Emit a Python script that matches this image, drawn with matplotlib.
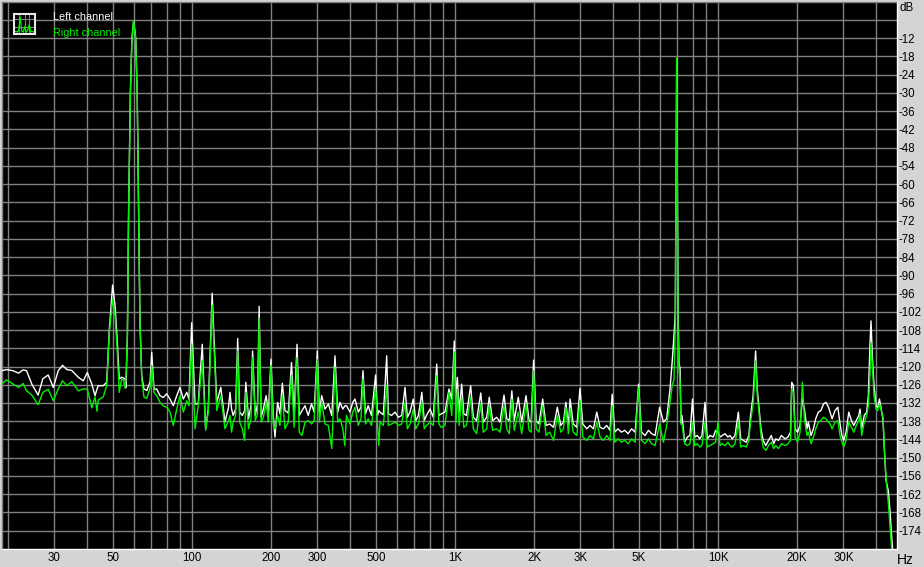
import matplotlib
matplotlib.use("Agg")
import matplotlib.pyplot as plt
from matplotlib.ticker import NullFormatter

# -------------------------------
# DATOS
# -------------------------------
freq_hz = [
    18.9, 19.7, 20.9, 21.9, 22.8, 23.5, 24.6, 26.0, 27.1, 28.4,
    29.7, 31.0, 32.2, 33.4, 34.9, 37.0, 38.6, 40.0, 41.6, 42.8,
    43.5, 44.0, 46.0, 47.4, 48.5, 49.9, 51.0, 52.0, 52.9, 54.0,
    54.8, 55.7, 56.1, 56.8, 57.4, 58.3, 59.1, 60.0, 61.1, 61.9,
    62.7, 63.4, 64.4, 65.7, 67.3, 69.3, 70.3, 71.7, 73.4, 75.6,
    77.8, 80.1, 82.5, 84.9, 87.5, 90.0, 92.7, 95.5, 97.4, 99.7,
    102.7, 105.6, 109.4, 112.7, 115.3, 119.3, 124.2, 128.7, 133.5, 137.7,
    139.5, 141.4, 143.4, 146.5, 149.2, 151.8, 155.4, 158.5, 160.2, 164.0,
    167.6, 170.0, 174.0, 177.5, 180.0, 183.2, 186.8, 191.3, 195.2, 199.7,
    203.7, 206.8, 211.6, 216.0, 220.5, 225.7, 232.3, 239.0, 244.5, 250.8,
    255.8, 262.0, 269.0, 276.7, 284.7, 291.3, 299.6, 305.0, 311.3, 320.4,
    330.0, 340.0, 349.7, 358.3, 365.3, 374.5, 381.0, 386.8, 398.8, 408.6,
    416.6, 428.9, 439.0, 446.9, 456.5, 467.5, 481.5, 499.0, 507.6, 513.0,
    518.6, 534.0, 550.0, 558.0, 574.0, 591.5, 609.0, 627.0, 645.6, 659.0,
    674.5, 694.0, 709.0, 726.0, 748.0, 764.0, 779.0, 803.6, 827.0, 852.0,
    868, 886, 916, 949, 972, 994, 1010, 1021, 1037, 1060,
    1080, 1105, 1147, 1174, 1208, 1253, 1281, 1320, 1350, 1390,
    1440, 1483, 1536, 1573, 1609, 1645, 1680, 1740, 1793, 1862,
    1913, 1948, 1990, 2035, 2085, 2155, 2220, 2290, 2370, 2450,
    2525, 2585, 2640, 2700, 2740, 2815, 2905, 2987, 3060, 3170,
    3261, 3360, 3460, 3560, 3665, 3775, 3885, 3960, 4050, 4165,
    4290, 4420, 4550, 4695, 4840, 4990, 5120, 5280, 5440, 5595,
    5765, 6000, 6200, 6380, 6570, 6700, 6800, 6880, 6966, 7050,
    7110, 7170, 7240, 7295, 7470, 7645, 7825, 8000, 8160, 8350,
    8525, 8690, 8925, 9100, 9324, 9600, 9790, 10000, 10177, 10380,
    10632, 10900, 11108, 11320, 11605, 11950, 12200, 12460, 12800, 13100,
    13300, 13600, 13900, 14100, 14300, 14570, 14850, 15200, 15560, 15950,
    16290, 16580, 16980, 17420, 17983, 18450, 18870, 19070, 19350, 19630,
    20070, 20505, 20940, 21300, 21800, 22050, 22580, 23060, 23520, 24080,
    24620, 25190, 25750, 26320, 26670, 27150, 27860, 28550, 29110, 29580,
    30050, 30690, 31420, 32160, 32820, 33550, 34310, 34670, 35180, 35980,
    36760, 37300, 37850, 38180, 38620, 39200, 39890, 40520, 41110, 41750,
    42400, 42950, 43550, 44430, 45080, 45750, 46150, 46600,
]

left_db = [
    -121.4, -121.0, -121.4, -122.2, -121.1, -121.4, -125.8, -129.4, -124.0, -122.8,
    -126.9, -121.4, -119.6, -121.0, -121.3, -123.6, -124.7, -122.0, -125.8, -129.6,
    -127.5, -126.3, -126.3, -125.2, -107.8, -93.2, -100.0, -112.0, -124.1, -123.5,
    -123.8, -124.1, -126.9, -110.0, -70.0, -30.0, -12.0, -6.3, -12.0, -30.0,
    -70.0, -105.0, -123.3, -127.4, -127.9, -125.0, -115.4, -127.5, -127.4, -129.6,
    -130.2, -129.0, -130.7, -132.9, -129.6, -126.9, -130.7, -128.5, -130.7, -105.6,
    -132.3, -132.3, -112.7, -140.5, -134.0, -95.9, -131.8, -126.9, -138.3, -133.4,
    -128.5, -134.0, -136.1, -134.0, -110.8, -135.0, -136.1, -134.5, -125.2, -137.2,
    -132.9, -114.9, -136.1, -132.3, -100.2, -136.7, -134.0, -129.6, -135.0, -117.6,
    -136.1, -143.2, -131.8, -135.6, -125.5, -134.5, -135.3, -118.7, -136.1, -112.7,
    -136.1, -134.5, -132.9, -136.1, -132.3, -135.0, -114.9, -135.0, -129.6, -134.0,
    -132.3, -136.1, -116.5, -135.0, -131.8, -134.0, -133.0, -132.9, -135.0, -131.8,
    -130.7, -135.0, -133.4, -121.4, -135.6, -132.9, -136.1, -122.8, -136.1, -134.5,
    -135.0, -135.9, -116.5, -135.6, -136.1, -135.0, -136.7, -136.1, -126.9, -136.7,
    -135.0, -130.7, -137.8, -136.1, -128.5, -137.8, -136.1, -134.0, -136.7, -119.2,
    -136.1, -135.6, -135.0, -127.4, -130.7, -111.6, -131.8, -123.6, -135.0, -125.8,
    -135.6, -136.1, -126.3, -136.7, -137.8, -128.7, -138.3, -136.7, -130.1, -137.8,
    -136.7, -138.3, -129.4, -137.2, -137.8, -128.0, -137.8, -130.1, -138.3, -129.6,
    -137.8, -138.3, -117.9, -137.8, -138.9, -130.7, -139.4, -138.9, -140.0, -133.4,
    -139.4, -138.3, -131.8, -139.4, -130.7, -138.9, -140.0, -127.2, -138.9, -140.5,
    -139.4, -140.5, -135.0, -140.0, -140.5, -139.4, -141.0, -129.1, -141.6, -140.5,
    -141.6, -141.0, -142.1, -140.5, -141.6, -125.8, -141.6, -142.7, -141.0, -142.1,
    -142.7, -133.4, -138.3, -137.2, -127.4, -118.1, -110.0, -102.4, -18.6, -101.5,
    -118.9, -120.5, -138.6, -136.1, -144.9, -143.2, -142.7, -130.7, -143.2, -142.7,
    -143.8, -142.7, -131.8, -143.8, -142.7, -143.2, -141.0, -141.6, -143.2, -142.7,
    -142.1, -143.2, -142.7, -143.8, -142.7, -135.0, -143.8, -144.3, -144.9, -142.7,
    -136.1, -129.6, -114.9, -127.4, -132.9, -140.5, -144.3, -146.0, -144.3, -142.7,
    -145.4, -143.8, -144.3, -142.7, -143.8, -143.2, -141.6, -125.2, -126.3, -140.5,
    -141.6, -139.4, -130.7, -134.0, -140.5, -138.3, -142.7, -140.5, -137.2, -135.0,
    -134.5, -132.3, -131.8, -133.4, -135.0, -137.2, -134.5, -133.4, -138.9, -142.7,
    -144.3, -141.6, -135.0, -137.8, -139.4, -137.8, -136.1, -134.0, -140.5, -136.1,
    -135.0, -129.6, -112.2, -105.0, -116.5, -126.3, -132.9, -133.4, -130.7, -134.0,
    -137.6, -148.0, -157.5, -161.0, -167.5, -176.0, -180.4, -186.0,
]

right_db = [
    -125.8, -124.4, -125.8, -126.9, -125.6, -128.0, -129.4, -132.6, -128.5, -127.5,
    -131.3, -127.4, -124.7, -126.3, -125.0, -128.0, -127.4, -127.4, -133.6, -130.0,
    -134.7, -131.0, -130.0, -126.3, -108.9, -97.9, -103.4, -115.4, -128.5, -124.1,
    -124.4, -127.3, -123.6, -110.0, -70.0, -31.0, -12.5, -6.2, -12.5, -31.0,
    -70.0, -105.0, -124.0, -130.1, -130.5, -127.0, -119.6, -128.5, -129.6, -131.8,
    -133.0, -133.4, -135.0, -139.4, -134.0, -129.6, -135.0, -131.3, -132.9, -112.7,
    -140.5, -133.0, -118.1, -141.0, -135.0, -99.8, -134.5, -129.6, -140.5, -137.8,
    -136.1, -141.6, -138.3, -136.1, -114.9, -138.3, -140.5, -144.3, -128.5, -140.5,
    -137.2, -117.1, -137.8, -135.6, -104.0, -138.3, -136.7, -131.8, -138.3, -119.6,
    -138.9, -140.5, -136.1, -139.4, -129.6, -140.5, -138.3, -122.8, -140.0, -117.1,
    -141.6, -142.7, -138.3, -137.8, -138.9, -137.8, -117.6, -138.3, -131.8, -138.9,
    -139.4, -147.0, -120.3, -138.3, -137.2, -140.5, -146.0, -136.1, -138.9, -135.0,
    -133.4, -139.4, -137.2, -124.1, -138.9, -137.2, -139.4, -126.9, -139.4, -146.0,
    -138.3, -139.4, -126.3, -139.4, -138.9, -138.3, -139.4, -138.9, -131.8, -140.5,
    -138.9, -134.0, -140.5, -138.9, -131.8, -140.5, -139.4, -138.3, -139.4, -123.0,
    -138.9, -140.0, -139.4, -128.5, -136.1, -115.2, -138.3, -127.4, -139.4, -130.1,
    -140.0, -139.4, -130.1, -140.5, -142.1, -132.3, -141.6, -140.5, -132.9, -141.0,
    -140.5, -141.6, -132.9, -140.5, -142.1, -130.7, -141.0, -135.0, -142.1, -132.3,
    -141.0, -141.6, -121.4, -140.5, -141.6, -132.9, -142.7, -141.6, -144.3, -136.1,
    -141.6, -140.5, -133.4, -142.1, -134.0, -141.6, -142.7, -131.2, -143.2, -144.3,
    -142.7, -143.8, -138.3, -143.2, -144.3, -142.7, -144.3, -132.9, -144.9, -143.8,
    -144.9, -144.3, -145.4, -143.8, -144.9, -126.9, -144.3, -145.4, -143.8, -145.4,
    -146.0, -138.9, -144.9, -139.4, -132.0, -126.0, -124.4, -107.3, -18.6, -107.5,
    -121.2, -124.4, -139.0, -138.9, -145.4, -146.0, -145.4, -138.3, -146.0, -145.4,
    -146.5, -146.0, -138.3, -146.5, -146.0, -145.4, -144.9, -138.3, -146.0, -145.4,
    -146.0, -144.9, -146.0, -146.5, -145.4, -138.3, -146.5, -146.0, -146.5, -144.3,
    -138.3, -132.3, -118.1, -129.6, -134.5, -142.7, -146.5, -147.6, -146.0, -144.9,
    -147.0, -146.0, -147.0, -145.4, -146.0, -145.4, -144.3, -127.4, -128.5, -143.2,
    -144.9, -141.6, -125.2, -137.2, -142.7, -141.6, -145.4, -143.2, -140.5, -138.3,
    -137.8, -136.7, -137.2, -138.3, -138.9, -140.5, -138.3, -137.8, -142.7, -144.9,
    -146.5, -144.3, -138.3, -140.0, -141.6, -139.4, -137.8, -135.6, -142.7, -138.3,
    -136.1, -132.9, -122.2, -112.2, -119.9, -129.6, -134.0, -134.5, -132.3, -134.5,
    -136.6, -147.4, -156.7, -164.9, -172.6, -180.2, -185.0, -190.0,
]

assert len(freq_hz) == len(left_db) == len(right_db)

x_major = [30, 50, 100, 200, 300, 500, 1000, 2000, 3000, 5000, 10000, 20000, 30000]
x_labels = ["30", "50", "100", "200", "300", "500", "1K", "2K", "3K", "5K", "10K", "20K", "30K"]
x_minor = [20, 40, 60, 70, 80, 90, 400, 600, 700, 800, 900,
           4000, 6000, 7000, 8000, 9000, 40000]
y_ticks = list(range(-174, 0, 6))
y_labels = [str(v) if v <= -12 else "" for v in y_ticks]

# icono de la leyenda
icon_levels = [1, 1.5, 1, 2, 9, 1.5, 1, 4, 1, 2, 5, 1, 1.5, 1]

# -------------------------------
# ESTILO
# -------------------------------
plt.rcParams["font.family"] = ["Liberation Sans", "DejaVu Sans"]
BG = "#d4d4d4"
GRID = "#808080"
GREEN = "#00f000"
W, H = 924, 567
FS = 8.3

fig = plt.figure(figsize=(9.24, 5.67), dpi=100, facecolor=BG)
ax = fig.add_axes([2 / W, 1 - 548.9 / H, 894.5 / W, 547.2 / H])
ax.set_facecolor("black")
ax.set_xscale("log")
ax.set_xlim(18.95, 47720)
ax.set_ylim(-180, 0)

ax.plot(freq_hz, left_db, color="white", lw=1.0, zorder=3)
ax.plot(freq_hz, right_db, color=GREEN, lw=1.0, zorder=4)

ax.set_xticks(x_major, x_labels)
ax.set_xticks(x_minor, minor=True)
ax.xaxis.set_minor_formatter(NullFormatter())
ax.set_yticks(y_ticks, y_labels)
ax.yaxis.tick_right()
ax.tick_params(which="both", length=0, labelsize=FS, colors="black")
ax.tick_params(axis="x", pad=2.0)
ax.tick_params(axis="y", pad=1.5)
ax.set_axisbelow(True)
ax.grid(True, which="both", color=GRID, lw=1.0)

for side, c in [("left", GRID), ("top", GRID), ("bottom", "white"), ("right", "white")]:
    ax.spines[side].set_color(c)
    ax.spines[side].set_linewidth(1.0)

fig.text(900 / W, 1 - 8 / H, "dB", fontsize=FS, va="center", ha="left")
fig.text(897 / W, 1 - 560 / H, "Hz", fontsize=10, va="center", ha="left")

# -------------------------------
# LEYENDA
# -------------------------------
ax_icon = fig.add_axes([13.5 / W, 1 - 34 / H, 21 / W, 20.5 / H])
ax_icon.set_facecolor("black")
ax_icon.plot(range(len(icon_levels)), icon_levels, color=GREEN, lw=0.9)
ax_icon.set_xlim(-0.5, len(icon_levels) - 0.5)
ax_icon.set_ylim(0, 11)
ax_icon.set_xticks([3, 7, 10])
ax_icon.set_yticks([4, 8])
ax_icon.tick_params(length=0, labelbottom=False, labelleft=False)
ax_icon.grid(True, color=GRID, lw=0.8)
ax_icon.set_axisbelow(True)
for s in ax_icon.spines.values():
    s.set_color("#e8e8e8")
    s.set_linewidth(1.5)

fig.text(53 / W, 1 - 19.5 / H, "Left channel", color="white", fontsize=7.8, va="baseline")
fig.text(53 / W, 1 - 35.5 / H, "Right channel", color=GREEN, fontsize=7.8, va="baseline")

fig.savefig("out.png", dpi=100, facecolor=BG)
